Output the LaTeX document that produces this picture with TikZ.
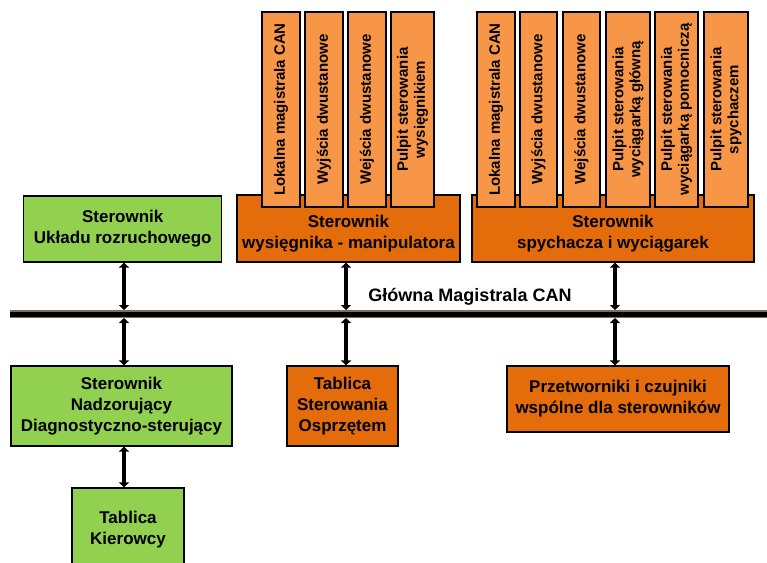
\documentclass[tikz,border=0pt]{standalone}
\usepackage{fontspec}
\setmainfont{Liberation Sans}
\usetikzlibrary{arrows.meta}

\begin{document}
\begin{tikzpicture}[
  x=1pt,y=-1pt,
  >={Triangle[length=5pt,width=10pt]},
  font=\bfseries\fontsize{17}{21}\selectfont,
  box/.style={draw=black,fill=#1,line width=1.2pt,align=center,inner sep=0pt},
  col/.style={draw=black,fill=colc,line width=1.2pt,rotate=90,align=center,
    inner sep=0pt,minimum width=195pt,minimum height=#1,
    font=\bfseries\fontsize{15}{17}\selectfont},
  lab/.style={align=center,inner sep=0pt},
  link/.style={<->,line width=4pt},
  bus/.style={draw=busc,double=black,double distance=5pt,line width=1.4pt}]

  \definecolor{greenc}{HTML}{92D050}
  \definecolor{boxc}{HTML}{E46C0A}
  \definecolor{colc}{HTML}{F79646}
  \definecolor{busc}{HTML}{7A705A}

  \useasboundingbox (0,0) rectangle (767,562);

  % ---- upper controllers ----
  \node[box=greenc,minimum width=198pt,minimum height=66pt] (roz) at (122.75,229)
    {Sterownik\\Układu rozruchowego};
  \node[box=boxc,minimum width=223pt,minimum height=67pt] (wys) at (348.5,228.5) {};
  \node[box=boxc,minimum width=282pt,minimum height=67pt] (spy) at (613,228.5) {};

  % ---- modules on top ----
  \node[col=38pt] (wys1) at (281,109.5) {Lokalna magistrala CAN};
  \node[col=38pt] (wys2) at (324,109.5) {Wyjścia dwustanowe};
  \node[col=38pt] (wys3) at (367,109.5) {Wejścia dwustanowe};
  \node[col=43pt] (wys4) at (412.5,109.5) {Pulpit sterowania\\wysięgnikiem};

  \node[col=38pt] (spy1) at (496,109.5) {Lokalna magistrala CAN};
  \node[col=37pt] (spy2) at (538.5,109.5) {Wyjścia dwustanowe};
  \node[col=37pt] (spy3) at (581.5,109.5) {Wejścia dwustanowe};
  \node[col=44pt] (spy4) at (628,109.5) {Pulpit sterowania\\wyciągarką główną};
  \node[col=43pt] (spy5) at (676.5,109.5) {Pulpit sterowania\\wyciągarką pomocniczą};
  \node[col=44pt] (spy6) at (726,109.5) {Pulpit sterowania\\spychaczem};

  \node[lab] at ([yshift=-5pt]wys.center) {Sterownik\\wysięgnika - manipulatora};
  \node[lab] at ([yshift=-5pt]spy.center) {Sterownik\\spychacza i wyciągarek};

  % ---- main bus ----
  \coordinate (busw) at (10,314);
  \coordinate (buse) at (770,314);
  \coordinate (tap1) at (124,314);
  \coordinate (tap2) at (346,314);
  \coordinate (tap3) at (615,314);
  \draw[bus] (busw) -- (buse);
  \node[lab,font=\bfseries\fontsize{18}{21}\selectfont] (buslab) at (470,297)
    {Główna Magistrala CAN};

  % ---- lower units ----
  \node[box=greenc,minimum width=221pt,minimum height=80pt] (nadz) at (121.5,406)
    {Sterownik\\Nadzorujący\\Diagnostyczno-sterujący};
  \node[box=boxc,minimum width=111pt,minimum height=80pt] (osp) at (342.5,406)
    {Tablica\\Sterowania\\Osprzętem};
  \node[box=boxc,minimum width=222pt,minimum height=66pt] (prz) at (618,399)
    {Przetworniki i czujniki\\wspólne dla sterowników};
  \node[box=greenc,minimum width=112pt,minimum height=84pt] (kier) at (128,530)
    {Tablica\\Kierowcy};

  % ---- links ----
  \draw[link] (tap1 |- roz.south) -- ([yshift=4pt]tap1);
  \draw[link] (tap2 |- wys.south) -- ([yshift=4pt]tap2);
  \draw[link] (tap3 |- spy.south) -- ([yshift=4pt]tap3);
  \draw[link] ([yshift=-4pt]tap1) -- (tap1 |- nadz.north);
  \draw[link] ([yshift=-4pt]tap2) -- (tap2 |- osp.north);
  \draw[link] ([yshift=-4pt]tap3) -- (tap3 |- prz.north);
  \draw[link] (tap1 |- nadz.south) -- (tap1 |- kier.north);
\end{tikzpicture}
\end{document}
